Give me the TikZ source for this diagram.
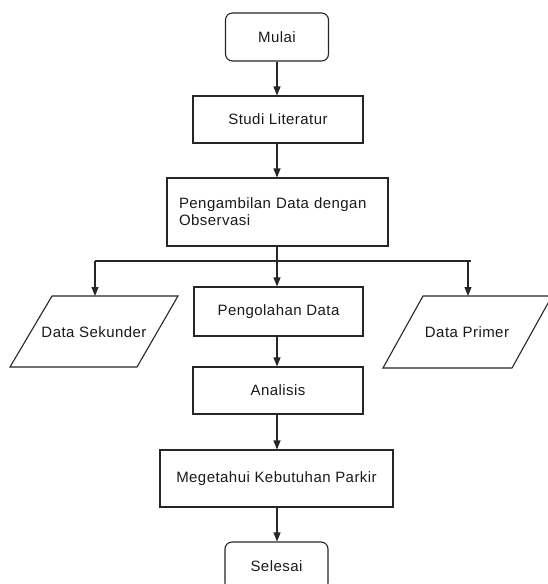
\documentclass[tikz,border=0pt]{standalone}
\usepackage{fontspec}
\setmainfont{Liberation Sans}[LetterSpace=3]
\usetikzlibrary{arrows.meta}
\begin{document}
\begin{tikzpicture}[x=1pt,y=-1pt,
  every node/.style={font=\fontsize{15}{17}\selectfont, text=black!90},
  box/.style={draw=black!85, line width=1.1pt, inner sep=0pt},
  term/.style={box, rounded corners=7pt, minimum width=103pt, minimum height=48pt},
  proc/.style={box, minimum height=47pt},
  arr/.style={draw=black!85, line width=1.1pt, -{Triangle[length=9pt,width=7pt]}},
  ln/.style={draw=black!85, line width=1.1pt},
  para/.style={draw=black!85, line width=1.1pt}]
\useasboundingbox (0,0) rectangle (547,584);
\node[term] (mulai) at (277,37) {Mulai};
\node[proc, minimum width=170pt] (studi) at (278,119.5) {Studi Literatur};
\node[box, minimum width=221pt, minimum height=68pt, text width=197pt, inner xsep=12pt, align=left] (ambil) at (277.5,212) {Pengambilan~Data~dengan\\Observasi};
\node[proc, minimum width=169pt, minimum height=49pt] (olah) at (278.5,311.5) {Pengolahan Data};
\node[proc, minimum width=170pt] (analisis) at (278,390.5) {Analisis};
\node[box, minimum width=233pt, minimum height=57pt] (mengetahui) at (276.5,478.5) {Megetahui Kebutuhan Parkir};
\node[term] (selesai) at (276.5,566) {Selesai};
% parallelograms
\draw[para] (52,296) -- (178,296) -- (137,367) -- (10,367) -- cycle;
\node (sekunder) at (94,332) {Data Sekunder};
\draw[para] (423,296) -- (552,296) -- (512,368) -- (383,368) -- cycle;
\node (primer) at (467,332) {Data Primer};
% connectors
\coordinate (junc) at (277,261);
\coordinate (jl) at (95,261);
\coordinate (jr) at (468,261);
\coordinate (sekTop) at (95,296);
\coordinate (priTop) at (468,296);
\draw[arr] (mulai.south -| 277,0) -- (studi.north -| 277,0);
\draw[arr] (studi.south -| 277,0) -- (ambil.north -| 277,0);
\draw[ln] (ambil.south -| junc) -- (junc);
\draw[ln] (jl) -- (471,261);
\draw[arr] (junc) -- (olah.north -| junc);
\draw[arr] (jl) -- (sekTop);
\draw[arr] (jr) -- (priTop);
\draw[arr] (olah.south -| 277,0) -- (analisis.north -| 277,0);
\draw[arr] (analisis.south -| 277,0) -- (mengetahui.north -| 277,0);
\draw[arr] (mengetahui.south -| 277,0) -- (selesai.north -| 277,0);
\end{tikzpicture}
\end{document}
